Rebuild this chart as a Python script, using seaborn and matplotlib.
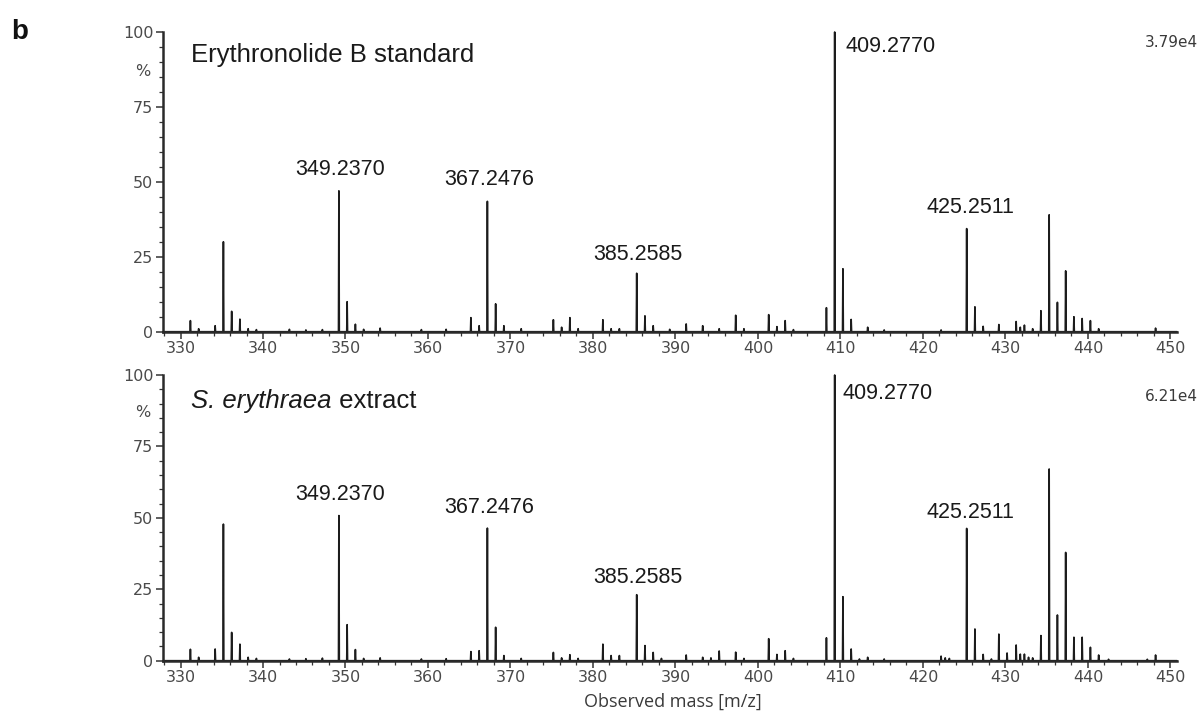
import numpy as np
import pandas as pd
import matplotlib
matplotlib.use("Agg")
import matplotlib.pyplot as plt
from matplotlib.ticker import MultipleLocator
import seaborn as sns

# ---------------- data ----------------
top_mz = [331.2, 332.2, 334.2, 335.2, 336.2, 337.2, 338.2, 339.2, 343.2, 345.2, 347.2,
          349.2, 350.2, 351.2, 352.2, 354.2, 359.2, 362.2, 365.2, 366.2, 367.2, 368.2,
          369.2, 371.3, 375.2, 376.2, 377.2, 378.2, 381.2, 382.2, 383.2, 385.3, 386.3,
          387.3, 389.3, 391.3, 393.3, 395.3, 397.3, 398.3, 401.3, 402.3, 403.3, 404.3,
          408.3, 409.3, 410.3, 411.3, 413.3, 415.3, 422.2, 425.3, 426.3, 427.3, 429.2,
          431.3, 431.8, 432.3, 433.3, 434.3, 435.3, 436.3, 437.3, 438.3, 439.3, 440.3,
          441.3, 448.2]
top_int = [3.7, 1, 2, 30, 6.8, 4.2, 1, 0.7, 0.8, 0.6, 0.7,
           47, 10, 2.5, 0.8, 1.2, 0.7, 0.8, 4.7, 2, 43.5, 9.3,
           2, 1, 4, 1.5, 4.7, 1, 4, 1, 1, 19.5, 5.3,
           2, 0.8, 2.6, 2, 1, 5.5, 1, 5.7, 1.7, 3.7, 0.7,
           8, 100, 21, 4.1, 1.5, 0.6, 0.6, 34.4, 8.3, 1.8, 2.4,
           3.4, 1.5, 2.2, 1, 7, 39, 9.8, 20.3, 5, 4.4, 3.7,
           1, 1.2]

bot_mz = [331.2, 332.2, 334.2, 335.2, 336.2, 337.2, 338.2, 339.2, 343.2, 345.2, 347.2,
          349.2, 350.2, 351.2, 352.2, 354.2, 359.2, 362.2, 365.2, 366.2, 367.2, 368.2,
          369.2, 371.3, 375.2, 376.2, 377.2, 378.2, 381.2, 382.2, 383.2, 385.3, 386.3,
          387.3, 388.3, 391.3, 393.3, 394.3, 395.3, 397.3, 398.3, 401.3, 402.3, 403.3,
          404.3, 408.3, 409.3, 410.3, 411.3, 412.3, 413.3, 415.3, 422.2, 422.7, 423.2,
          425.3, 426.3, 427.3, 428.3, 429.2, 430.2, 431.3, 431.8, 432.3, 432.8, 433.3,
          434.3, 435.3, 436.3, 437.3, 438.3, 439.3, 440.3, 441.3, 442.5, 447.2, 448.2]
bot_int = [4, 1.2, 4.1, 47.8, 9.9, 5.8, 1.2, 0.8, 0.6, 0.7, 0.9,
           50.8, 12.6, 3.9, 0.8, 1, 0.6, 0.7, 3.2, 3.5, 46.4, 11.7,
           1.8, 0.8, 2.9, 1, 2.1, 0.8, 5.8, 1.8, 1.8, 23.1, 5.3,
           2.9, 0.8, 2, 1.2, 1, 3.4, 3, 0.8, 7.7, 2.2, 3.5,
           0.8, 8, 100, 22.4, 4.1, 0.6, 1.2, 0.6, 1.6, 1, 0.8,
           46.3, 11.1, 2.2, 0.6, 9.3, 2.7, 5.5, 2.3, 2.3, 1.2, 1,
           8.8, 67.1, 16, 37.9, 8.2, 8.2, 4.7, 2, 0.5, 0.5, 2]

peak_labels = ["349.2370", "367.2476", "385.2585", "409.2770", "425.2511"]
x_ticks = [330, 340, 350, 360, 370, 380, 390, 400, 410, 420, 430, 440, 450]
y_ticks = [0, 25, 50, 75, 100]
scale_top = "3.79e4"
scale_bot = "6.21e4"

# ---------------- layout ----------------
XMIN, XMAX = 327.88, 450.8
top_label_pos = [(349.4, 54.0, "center"), (367.4, 50.7, "center"), (385.5, 25.7, "center"),
                 (410.6, 95.3, "left"), (425.8, 41.3, "center")]
bot_label_pos = [(349.4, 58.3, "center"), (367.4, 53.6, "center"), (385.5, 29.2, "center"),
                 (410.3, 93.5, "left"), (425.8, 51.9, "center")]

sns.set_theme(style="white")
plt.rcParams["font.family"] = ["Liberation Sans", "DejaVu Sans"]

fig = plt.figure(figsize=(12.04, 7.18), dpi=100)
ax_top = fig.add_axes([0.1354, 0.538, 0.8422, 0.4174])
ax_bot = fig.add_axes([0.1354, 0.0798, 0.8422, 0.3979])


def profile(mz, inten):
    xs, ys = [XMIN], [0.0]
    for m, h in sorted(zip(mz, inten)):
        xs += [m - 0.05, m, m + 0.05]
        ys += [0.0, h, 0.0]
    xs.append(XMAX)
    ys.append(0.0)
    return pd.DataFrame({"mz": xs, "intensity": ys})


tick_font = dict(family="DejaVu Sans", size=11.5, color="#4a4a4a")


def style_axis(ax, mz, inten, labels_pos, title_parts, scale_txt, scale_y, pct_y):
    df = profile(mz, inten)
    sns.lineplot(data=df, x="mz", y="intensity", ax=ax, estimator=None, sort=False,
                 color="#1c1c1c", linewidth=1.2)
    for ln in ax.lines:
        ln.set_clip_on(False)
    ax.set_xlim(XMIN, XMAX)
    ax.set_ylim(0, 100)
    sns.despine(ax=ax, top=True, right=True)
    for s in ["left", "bottom"]:
        ax.spines[s].set_color("#2a2a2a")
        ax.spines[s].set_linewidth(1.8)
    ax.set_xticks(x_ticks)
    ax.set_yticks(y_ticks)
    ax.xaxis.set_minor_locator(MultipleLocator(2))
    ax.yaxis.set_minor_locator(MultipleLocator(5))
    ax.tick_params(axis="both", which="major", direction="out", length=5, width=1.1,
                   color="#333333", bottom=True, left=True, pad=2)
    ax.tick_params(axis="both", which="minor", direction="out", length=3, width=0.9,
                   color="#333333", bottom=True, left=True)
    ax.set_xticklabels([str(v) for v in x_ticks], fontdict=tick_font)
    ax.set_yticklabels([str(v) for v in y_ticks], fontdict=tick_font)
    ax.set_xlabel("")
    ax.set_ylabel("")
    ax.grid(False)
    ax.set_facecolor("white")

    for lab, (x, y, ha) in zip(peak_labels, labels_pos):
        ax.text(x, y, lab, ha=ha, va="center", fontsize=15.5, color="#1a1a1a",
                family="Liberation Sans")
    # panel title
    x0 = 331.3
    if len(title_parts) == 1:
        ax.text(x0, 92.3, title_parts[0], ha="left", va="center", fontsize=18.5,
                color="#1a1a1a", family="Liberation Sans")
    else:
        t = ax.text(x0, 91.0, title_parts[0], ha="left", va="center", fontsize=18.5,
                    color="#1a1a1a", family="Liberation Sans", style="italic")
        ax.annotate(title_parts[1], xycoords=t, xy=(1, 0.5), va="center", ha="left",
                    fontsize=18.5, color="#1a1a1a", family="Liberation Sans")
    ax.text(453.3, scale_y, scale_txt, ha="right", va="center", fontsize=11,
            color="#3a3a3a", family="DejaVu Sans", clip_on=False)
    ax.text(325.45, pct_y, "%", ha="center", va="center", fontsize=11.5,
            color="#4a4a4a", family="DejaVu Sans", clip_on=False)


style_axis(ax_top, top_mz, top_int, top_label_pos, ["Erythronolide B standard"],
           scale_top, 96.6, 86.7)
style_axis(ax_bot, bot_mz, bot_int, bot_label_pos, ["S. erythraea", " extract"],
           scale_bot, 92.6, 87.0)

fig.text(0.009, 0.955, "b", ha="left", va="center", fontsize=20, fontweight="bold",
         family="Liberation Sans", color="#111111")
fig.text(0.559, 0.022, "Observed mass [m/z]", ha="center", va="center",
         fontsize=13, color="#3a3a3a", family="Open Sans")

fig.savefig("out.png", dpi=100)
